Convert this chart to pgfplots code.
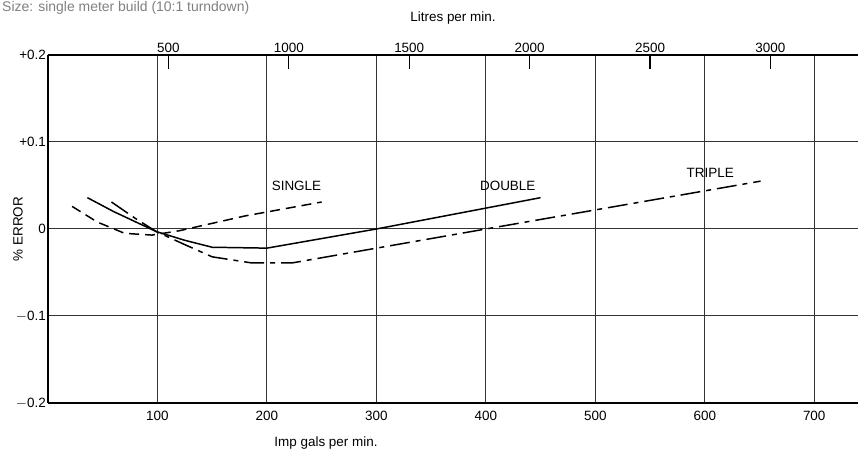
\documentclass[border=0pt]{standalone}
\usepackage{pgfplots}
\pgfplotsset{compat=1.18}
\usepackage{fontspec}
\setmainfont{Liberation Sans}
\begin{document}
\begin{tikzpicture}[x=1bp,y=1bp]
\path[use as bounding box] (-48,-48) rectangle (810,403);
\node[anchor=north west,text=gray,font=\fontsize{14}{15}\selectfont,inner sep=0] at (-46,402) {Size: single meter build (10:1 turndown)};
\begin{axis}[at={(0,0)},anchor=south west,scale only axis,width=810bp,height=348bp,
  xmin=0,xmax=740,ymin=-0.2,ymax=0.2,
  axis line style={line width=1.3pt},
  xtick={100,200,...,700},ytick={-0.2,-0.1,0,0.1,0.2},
  yticklabels={$-$0.2,$-$0.1,0,+0.1,+0.2},
  major tick length=0pt,
  grid=major,grid style={black!80,line width=1pt},
  tick label style={font=\fontsize{13.5}{14}\selectfont},
  xticklabel style={inner sep=2pt,yshift=-6pt},
  yticklabel style={inner sep=2pt},
  /pgf/number format/assume math mode=true,
  axis x line*=bottom, axis y line*=left,
]
\addplot[black,line width=1.5pt,dash pattern=on 10pt off 6pt] coordinates {(22,0.026)(45,0.008)(70,-0.005)(95,-0.007)(120,-0.002)(180,0.015)(250,0.031)};
\addplot[black,line width=1.5pt] coordinates {(36,0.036)(60,0.02)(99,-0.003)(125,-0.013)(150,-0.021)(200,-0.022)(300,0)(450,0.036)};
\addplot[black,line width=1.5pt,dash pattern=on 20pt off 6pt on 5pt off 6pt] coordinates {(58,0.031)(80,0.012)(99,-0.003)(125,-0.018)(150,-0.032)(186,-0.039)(223,-0.039)(400,0)(651,0.055)};
\node[font=\fontsize{13.5}{14}\selectfont] at (axis cs:227,0.049) {SINGLE};
\node[font=\fontsize{13.5}{14}\selectfont] at (axis cs:420,0.049) {DOUBLE};
\node[font=\fontsize{13.5}{14}\selectfont] at (axis cs:605,0.064) {TRIPLE};
\end{axis}
\begin{axis}[at={(0,0)},anchor=south west,scale only axis,width=810bp,height=348bp,
  xmin=0,xmax=740,ymin=-0.2,ymax=0.2,
  axis x line*=top, axis y line=none,
  axis line style={line width=1.3pt},
  xtick={110,220,330,440,550,660},xticklabels={500,1000,1500,2000,2500,3000},
  major tick length=14bp,tick style={line width=1.3pt,black},
  tick label style={font=\fontsize{13.5}{14}\selectfont},
  xticklabel style={inner sep=2pt},
  /pgf/number format/assume math mode=true,
]
\end{axis}
\node[font=\fontsize{13.5}{14}\selectfont,anchor=north] at (278,-30) {Imp gals per min.};
\node[font=\fontsize{13.5}{14}\selectfont] at (405,385) {Litres per min.};
\node[font=\fontsize{13.5}{14}\selectfont,rotate=90] at (-30,174) {\% ERROR};
\end{tikzpicture}
\end{document}
